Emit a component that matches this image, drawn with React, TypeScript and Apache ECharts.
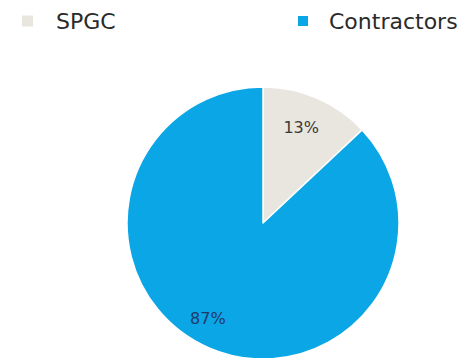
import React, { useEffect, useRef } from "react";
import * as echarts from "echarts";

const categories = ["SPGC", "Contractors"];
const values = [13, 87];
const colors = ["#E9E6DF", "#0BA6E6"];
const labelColors = ["#3a3a3a", "#1F3A66"];

export default function App() {
  const ref = useRef<HTMLDivElement>(null);
  useEffect(() => {
    if (!ref.current) return;
    const chart = echarts.init(ref.current, undefined, { renderer: "svg" });
    const offsets = [
      [10, -30],
      [-27, 30],
    ];
    const legendText = { fontFamily: "DejaVu Sans", fontSize: 22, color: "#2a2a2a" };
    chart.setOption({
      animation: false,
      backgroundColor: "#ffffff",
      legend: [
        {
          data: [categories[0]],
          left: 15,
          top: 5,
          itemWidth: 13,
          itemHeight: 13,
          icon: "rect",
          textStyle: { ...legendText, padding: [0, 0, 0, 17] },
          selectedMode: false,
        },
        {
          data: [categories[1]],
          left: 291,
          top: 5,
          itemWidth: 12,
          itemHeight: 12,
          icon: "rect",
          textStyle: { ...legendText, padding: [0, 0, 0, 15] },
          selectedMode: false,
        },
      ],
      series: [
        {
          type: "pie",
          center: [263, 223],
          radius: 136,
          startAngle: 90,
          clockwise: true,
          avoidLabelOverlap: false,
          itemStyle: { borderColor: "#ffffff", borderWidth: 1.5 },
          label: {
            show: true,
            position: "inside",
            formatter: "{d}%",
            fontFamily: "DejaVu Sans",
            fontSize: 16,
          },
          labelLine: { show: false },
          emphasis: { disabled: true },
          data: categories.map((c, i) => ({
            name: c,
            value: values[i],
            itemStyle: { color: colors[i] },
            label: { color: labelColors[i], offset: offsets[i] },
          })),
        },
      ],
    });
    return () => chart.dispose();
  }, []);
  return (
    <div
      ref={ref}
      style={{ position: "fixed", left: 0, top: 0, width: 466, height: 358 }}
    />
  );
}
